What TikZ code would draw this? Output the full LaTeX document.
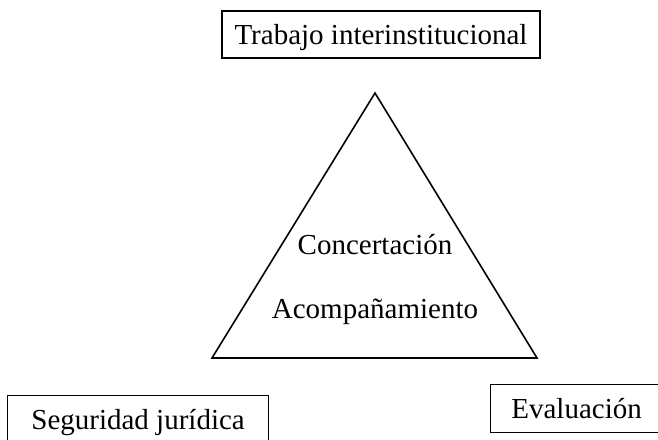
\documentclass[tikz,border=0pt]{standalone}
\usepackage{fontspec}
\setmainfont{Liberation Serif}
\usetikzlibrary{positioning}

\tikzset{
  labelbox/.style={draw, line width=1.2pt, font=\fontsize{29}{33}\selectfont, inner sep=0pt, text depth=0pt, align=center},
  insidetext/.style={font=\fontsize{29}{33}\selectfont, inner sep=0pt, anchor=base}
}

\begin{document}
\begin{tikzpicture}[x=1pt, y=-1pt]
% Page frame, same size as the reference
\useasboundingbox (0,0) rectangle (658,439);
\clip (0,0) rectangle (658,439);

% Triangle corners
\coordinate (apex) at (375,93);
\coordinate (baseleft) at (212,358);
\coordinate (baseright) at (537,358);
\draw[line width=1.6pt, line join=miter] (apex) -- (baseleft) -- (baseright) -- cycle;

% Words inside the triangle
\node[insidetext] (concert) at (375,254) {Concertación};
\node[insidetext] (acomp) at (375,318) {Acompañamiento};

% Boxes round the triangle
\node[labelbox, minimum width=318pt, minimum height=47pt] (trabajo) at (381,34.5) {Trabajo interinstitucional};
\node[labelbox, anchor=north west, minimum width=261pt, minimum height=48pt] (seguridad) at (7,395) {Seguridad jurídica};
\node[labelbox, anchor=north west, minimum width=172pt, minimum height=48pt] (evaluacion) at (490,384) {Evaluación};
\end{tikzpicture}
\end{document}
